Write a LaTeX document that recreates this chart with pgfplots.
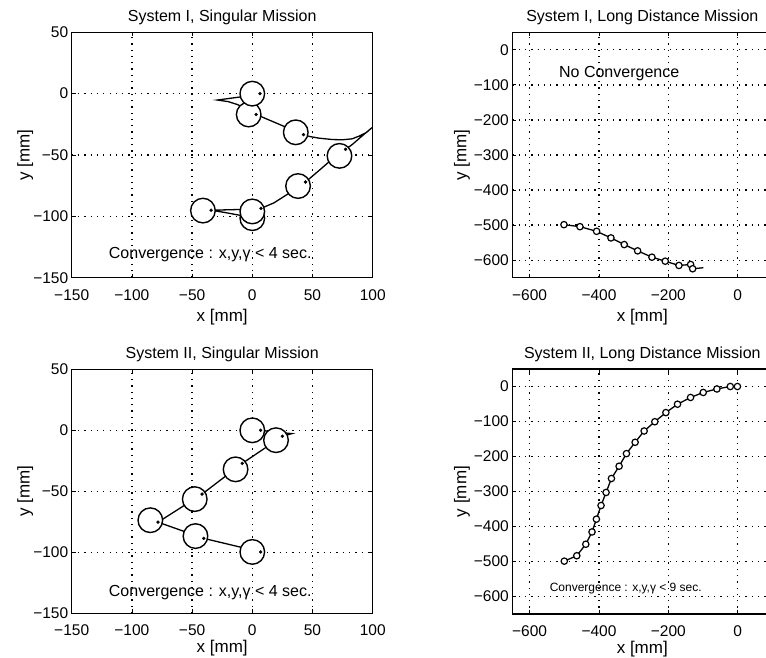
\documentclass[border=0pt]{standalone}
\usepackage{fontspec}
\setmainfont{Liberation Sans}
\usepackage{pgfplots}
\pgfplotsset{compat=1.18}
\newcommand{\fs}[1]{\fontsize{#1}{#1}\selectfont}

\pgfplotsset{
  myaxis/.style={
    scale only axis,
    axis line style={line width=1.5pt},
    grid=major,
    major grid style={black, line width=1.3pt, dash pattern=on 1.3pt off 5pt},
    tick align=inside,
    major tick length=4pt,
    tick style={line width=0.8pt, black},
    every tick label/.append style={font=\fs{15.5}},
    xticklabel style={anchor=base, yshift=-22.3pt},
    title style={font=\fs{16}, anchor=base, at={(axis description cs:0.5,1)}, yshift=4.9pt},
    xlabel style={font=\fs{17}, anchor=base, at={(axis description cs:0.5,0)}, yshift=-43.3pt},
    xlabel={x [mm]},
    ylabel={y [mm]},
  },
  bottomrow/.style={
    xlabel style={yshift=3.8pt},
  },
  smallaxis/.style={
    myaxis,
    width=301pt, height=245.4pt,
    xmin=-150, xmax=100, ymin=-150, ymax=50,
    xtick={-150,-100,-50,0,50,100},
    xticklabels={−150,−100,−50,0,50,100},
    ytick={-150,-100,-50,0,50},
    yticklabels={−150,−100,−50,0,50},
    ylabel style={font=\fs{17}, anchor=base, at={([xshift=-42pt]axis description cs:0,0.5)}},
  },
  bigaxis/.style={
    myaxis,
    width=260pt, height=245.4pt,
    xmin=-650, xmax=100, ymin=-650, ymax=50,
    xtick={-600,-400,-200,0},
    xticklabels={−600,−400,−200,0},
    ytick={-600,-500,-400,-300,-200,-100,0},
    yticklabels={−600,−500,−400,−300,−200,−100,0},
    ylabel style={font=\fs{17}, anchor=base, at={([xshift=-46pt]axis description cs:0,0.5)}},
  },
  robot/.style={only marks, mark=*, mark size=12.3pt, mark options={fill=white, draw=black, line width=1.4pt}},
  rdot/.style={only marks, mark=*, mark size=1.5pt, mark options={fill=black, draw=black}},
  traj/.style={black, line width=1.3pt, no marks},
  smallo/.style={only marks, mark=*, mark size=3.2pt, mark options={fill=white, draw=black, line width=1.2pt}},
}

\begin{document}
\begin{tikzpicture}
\path[use as bounding box] (0pt,0pt) rectangle (766pt,657pt);
\begin{scope}
\clip (0pt,0pt) rectangle (766pt,657pt);

% ---------------- System I, Singular Mission
\begin{axis}[smallaxis, at={(71.7pt,379.3pt)}, anchor=south west,
  title={System I, Singular Mission}]
\addplot[traj] coordinates {
 (6.4,0) (-10,-2.7) (-29,-5.2) (-20,-6.5) (-12,-9) (-4,-13.5) (3.2,-17)
 (20,-24) (42.5,-33.4) (48,-35) (55.6,-36.3) (66.6,-37.4) (75,-37.6)
 (83,-36.8) (89,-34.5) (95,-31.5) (99.4,-27.7)
 (90,-35.5) (83.6,-41) (77.5,-45.4) (65,-54.5) (55,-63) (44.2,-72)
 (30,-81.5) (18,-89) (7.2,-93.5) (-10,-94.4) (-34.2,-95)
 (-22,-97) (-11,-99) (0,-100.5) (6.5,-101)
};
\addplot[robot] coordinates {
 (0,-101.5) (-41,-95.3) (0,-96) (38,-75.3) (72.4,-50.7) (36.1,-31.5) (-3,-17) (0,0)
};
\addplot[rdot] coordinates {
 (6.4,0) (3.2,-17) (42.5,-33.4) (77.5,-45.4) (44.2,-72) (7.2,-93.5) (-34.2,-95)
};
\node[font=\fs{16}, anchor=base west] at (axis cs:-122,-134.5) {Convergence : x,y,γ < 4 sec.};
\end{axis}

% ---------------- System I, Long Distance Mission
\begin{axis}[bigaxis, at={(512.3pt,379.3pt)}, anchor=south west,
  title={System I, Long Distance Mission}]
\addplot[traj] coordinates {
 (-501,-498.7) (-454.9,-504.4) (-406.8,-517.7) (-365.5,-536.5) (-327.1,-555.5)
 (-288.5,-573.4) (-247.2,-591.5) (-208.8,-602.9) (-169.3,-615.1) (-135.6,-612.3)
 (-129.8,-624.5) (-99,-621.6)
};
\addplot[smallo] coordinates {
 (-501,-498.7) (-454.9,-504.4) (-406.8,-517.7) (-365.5,-536.5) (-327.1,-555.5)
 (-288.5,-573.4) (-247.2,-591.5) (-208.8,-602.9) (-169.3,-615.1) (-135.6,-612.3)
 (-129.8,-624.5)
};
\node[font=\fs{16}, anchor=base west] at (axis cs:-525,-77.8) {No Convergence};
\end{axis}

% ---------------- System II, Singular Mission
\begin{axis}[smallaxis, bottomrow, at={(71.7pt,43.7pt)}, anchor=south west,
  height=244pt, title={System II, Singular Mission}]
\addplot[traj] coordinates {
 (6.9,0) (20,-1.5) (32.8,-2.7) (25,-4.9) (-8.3,-27.1) (-41.7,-52.3)
 (-78.3,-75.3) (-40.3,-88.6) (6.9,-99.7)
};
\addplot[robot] coordinates {
 (0,-99.7) (-47.2,-86.7) (-84.7,-73.7) (-47.8,-56.4) (-13.9,-32) (19.7,-8.1) (0,0)
};
\addplot[rdot] coordinates {
 (6.9,0) (25,-4.9) (-8.3,-27.1) (-41.7,-52.3) (-78.3,-75.3) (-40.3,-88.6) (6.9,-99.7)
};
\node[font=\fs{16}, anchor=base west] at (axis cs:-122,-136.3) {Convergence : x,y,γ < 4 sec.};
\end{axis}

% ---------------- System II, Long Distance Mission
\begin{axis}[bigaxis, bottomrow, at={(512.3pt,43pt)}, anchor=south west,
  height=245pt, title={System II, Long Distance Mission}]
\addplot[traj] coordinates {
 (-500,-499) (-464,-483.5) (-438,-450.7) (-420,-415.5) (-407.4,-379) (-394,-340)
 (-379.5,-302.7) (-364,-262.8) (-341.9,-227.7) (-320.7,-191.7) (-295.7,-159.4)
 (-269.7,-127.1) (-238.9,-100.6) (-207,-74.5) (-173.4,-50.6) (-135.8,-31.3)
 (-99.2,-17) (-59.8,-7) (-21.2,0) (-0.6,0)
};
\addplot[smallo] coordinates {
 (-500,-499) (-464,-483.5) (-438,-450.7) (-420,-415.5) (-407.4,-379) (-394,-340)
 (-379.5,-302.7) (-364,-262.8) (-341.9,-227.7) (-320.7,-191.7) (-295.7,-159.4)
 (-269.7,-127.1) (-238.9,-100.6) (-207,-74.5) (-173.4,-50.6) (-135.8,-31.3)
 (-99.2,-17) (-59.8,-7) (-21.2,0) (-0.6,0)
};
\node[font=\fs{12}, anchor=base west] at (axis cs:-552,-585.5) {Convergence : x,y,γ < 9 sec.};
\end{axis}
\end{scope}
\end{tikzpicture}
\end{document}
